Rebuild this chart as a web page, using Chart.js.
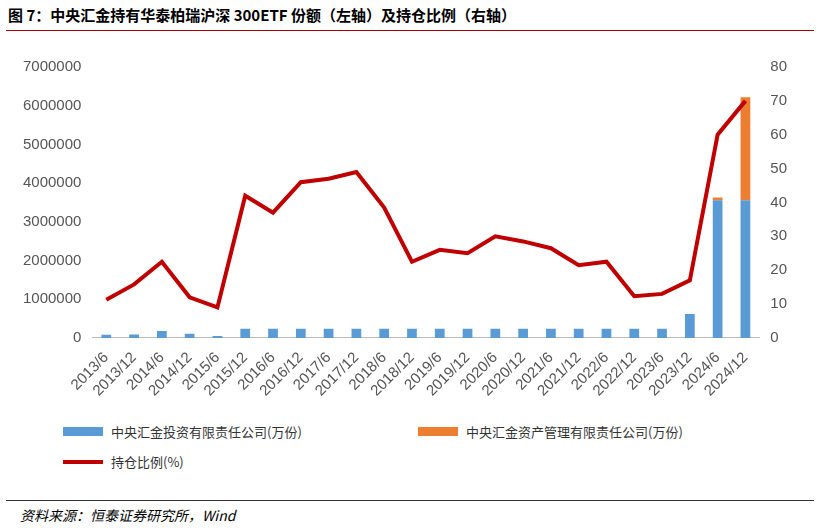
<!DOCTYPE html><html><head><meta charset="utf-8">
<script src="https://cdn.jsdelivr.net/npm/chart.js@4/dist/chart.umd.min.js"></script>
<style>
body{margin:0;width:820px;height:530px;background:#fff;font-family:"Noto Sans CJK SC",sans-serif;position:relative;overflow:hidden}
#title{position:absolute;left:8px;top:4px;font-size:15px;font-weight:bold;color:#000}
#tline{position:absolute;left:6px;right:6px;top:30px;border-top:1px solid #a00}
#wrap{position:absolute;left:20px;top:55px;width:770px;height:348px}
.lg{position:absolute;font-size:13px;color:#333;display:flex;align-items:center}
.sw{display:inline-block;margin-right:8px}
#bline{position:absolute;left:6px;right:6px;top:500px;border-top:1px solid #333}
#src{position:absolute;left:20px;top:505px;font-size:14px;font-style:italic;color:#000}
</style></head><body>
<div id="title">图 7：中央汇金持有华泰柏瑞沪深 300ETF 份额（左轴）及持仓比例（右轴）</div>
<div id="tline"></div>
<div id="wrap"><canvas id="c"></canvas></div>
<div class="lg" style="left:63px;top:422px"><span class="sw" style="width:40px;height:9px;background:#5B9BD5"></span>中央汇金投资有限责任公司(万份)</div>
<div class="lg" style="left:418px;top:422px"><span class="sw" style="width:40px;height:9px;background:#ED7D31"></span>中央汇金资产管理有限责任公司(万份)</div>
<div class="lg" style="left:63px;top:452px"><span class="sw" style="width:40px;height:4px;background:#C00000"></span>持仓比例(%)</div>
<div id="bline"></div>
<div id="src">资料来源：恒泰证券研究所，Wind</div>
<script>
const categories=["2013/6","2013/12","2014/6","2014/12","2015/6","2015/12","2016/6","2016/12","2017/6","2017/12","2018/6","2018/12","2019/6","2019/12","2020/6","2020/12","2021/6","2021/12","2022/6","2022/12","2023/6","2023/12","2024/6","2024/12"];
const investCo=[80000,90000,180000,110000,50000,240000,240000,240000,240000,240000,240000,240000,240000,240000,240000,240000,240000,240000,240000,240000,240000,620000,3560000,3560000];
const assetCo=[0,0,0,0,0,0,0,0,0,0,0,0,0,0,0,0,0,0,0,0,0,0,70000,2660000];
const ratio=[11.3,15.8,22.5,12,9,42,37,46,47,49,38.5,22.5,26,25,30,28.5,26.5,21.5,22.5,12.3,13,17,60,70];
const tf={family:"Arial",size:15};
new Chart(document.getElementById('c'),{data:{labels:categories,datasets:[
{type:'line',data:ratio,yAxisID:'y1',borderColor:'#C00000',borderWidth:4,pointRadius:0,tension:0,order:0},
{type:'bar',data:investCo,backgroundColor:'#5B9BD5',stack:'s',barPercentage:0.35,categoryPercentage:1,order:1},
{type:'bar',data:assetCo,backgroundColor:'#ED7D31',stack:'s',barPercentage:0.35,categoryPercentage:1,order:1}]},
options:{responsive:true,maintainAspectRatio:false,animation:false,layout:{padding:{top:5}},
plugins:{legend:{display:false},tooltip:{enabled:false}},
scales:{x:{stacked:true,grid:{display:false},border:{color:'#bbb'},ticks:{color:'#555',font:tf,maxRotation:45,minRotation:45,autoSkip:false}},
y:{stacked:true,min:0,max:7000000,ticks:{stepSize:1000000,color:'#555',font:tf,callback:v=>String(v)},grid:{display:false},border:{display:false}},
y1:{position:'right',min:0,max:80,ticks:{stepSize:10,color:'#555',font:tf},grid:{display:false},border:{display:false}}}}});
</script></body></html>
